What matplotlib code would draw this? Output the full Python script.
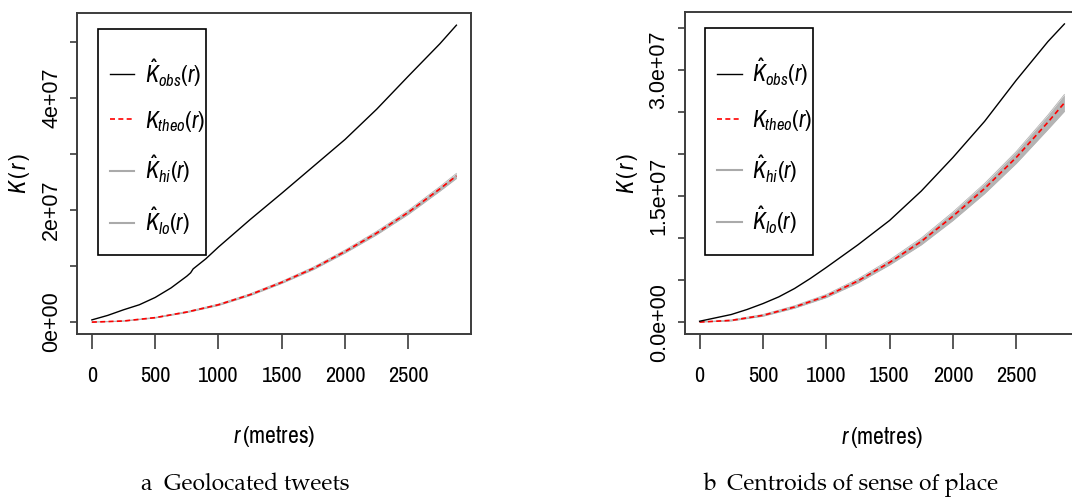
import matplotlib
matplotlib.use("Agg")
import matplotlib.pyplot as plt
from matplotlib.lines import Line2D
from matplotlib.patches import Rectangle

NARROW = ["Archivo Narrow", "Liberation Sans Narrow", "DejaVu Sans"]
SERIF = ["TeX Gyre Pagella", "P052", "URW Palladio L", "Palatino", "Liberation Serif", "DejaVu Serif"]

plt.rcParams["font.family"] = NARROW
plt.rcParams["mathtext.fontset"] = "custom"
plt.rcParams["mathtext.rm"] = "Archivo Narrow"
plt.rcParams["mathtext.it"] = "Archivo Narrow:italic"

# ---- data (K values in units of 1e7) ----
r_obs_a = [0, 125, 250, 375, 500, 625, 750, 780, 800, 900, 1000, 1250, 1500, 1750, 2000,
           2250, 2500, 2750, 2880]
k_obs_a = [0.04, 0.12, 0.22, 0.31, 0.44, 0.61, 0.82, 0.88, 0.95, 1.13, 1.34, 1.83, 2.30,
           2.78, 3.26, 3.80, 4.39, 4.97, 5.30]

r_obs_b = [0, 125, 250, 375, 500, 625, 750, 875, 1000, 1250, 1500, 1750, 2000, 2250, 2500,
           2750, 2880]
k_obs_b = [0.01, 0.05, 0.09, 0.15, 0.22, 0.30, 0.40, 0.52, 0.65, 0.92, 1.21, 1.56, 1.96,
           2.39, 2.88, 3.34, 3.55]

r_theo = [0, 250, 500, 750, 1000, 1250, 1500, 1750, 2000, 2250, 2500, 2750, 2880]
k_theo = [0, 0.02, 0.08, 0.18, 0.31, 0.49, 0.71, 0.96, 1.26, 1.59, 1.96, 2.38, 2.61]

k_hi_a = [0, 0.023, 0.085, 0.188, 0.322, 0.505, 0.728, 0.982, 1.286, 1.62, 1.995, 2.42, 2.655]
k_lo_a = [0, 0.017, 0.075, 0.172, 0.298, 0.475, 0.692, 0.938, 1.234, 1.56, 1.925, 2.34, 2.565]

k_hi_b = [0, 0.026, 0.09, 0.194, 0.328, 0.514, 0.74, 1.0, 1.31, 1.65, 2.03, 2.465, 2.71]
k_lo_b = [0, 0.014, 0.07, 0.166, 0.292, 0.466, 0.68, 0.92, 1.21, 1.53, 1.89, 2.295, 2.51]

ticks_a = [0, 1, 2, 3, 4, 5]
ticklabels_a = ["0e+00", "", "2e+07", "", "4e+07", ""]
ticks_b = [0, 0.5, 1.0, 1.5, 2.0, 2.5, 3.0, 3.5]
ticklabels_b = ["0.0e+00", "", "", "1.5e+07", "", "", "3.0e+07", ""]
xticks = [0, 500, 1000, 1500, 2000, 2500]

labels = [r"$\hat{K}_{obs}(r)$", r"$K_{theo}(r)$", r"$\hat{K}_{hi}(r)$", r"$\hat{K}_{lo}(r)$"]
captions = ["a\u2002Geolocated tweets", "b\u2002Centroids of sense of place"]

SPINE = "#3c3c3c"
BAND = "#b4b4b4"

fig = plt.figure(figsize=(10.72, 4.98), dpi=100)
W, H = 1072, 498


def px_rect(x0, y0, x1, y1):
    return [x0 / W, 1 - y1 / H, (x1 - x0) / W, (y1 - y0) / H]


panels = [
    dict(rect=px_rect(77.3, 13.3, 471, 334), obs=(r_obs_a, k_obs_a), hi=k_hi_a, lo=k_lo_a,
         ticks=ticks_a, tl=ticklabels_a, box=(98.3, 29, 205.9, 255), leg=(109.7, 147),
         cap_x=245),
    dict(rect=px_rect(685, 12, 1079, 334), obs=(r_obs_b, k_obs_b), hi=k_hi_b, lo=k_lo_b,
         ticks=ticks_b, tl=ticklabels_b, box=(705, 27.7, 813, 255), leg=(717, 146.3),
         cap_x=851),
]

for i, p in enumerate(panels):
    ax = fig.add_axes(p["rect"])
    ax.fill_between(r_theo, p["lo"], p["hi"], color=BAND, lw=0, zorder=1)
    ax.plot(r_theo, p["hi"], color=BAND, lw=0.6, zorder=1)
    ax.plot(r_theo, p["lo"], color=BAND, lw=0.6, zorder=1)
    ax.plot(p["obs"][0], p["obs"][1], color="black", lw=1.0, zorder=3)
    ax.plot(r_theo, k_theo, color="#ff0000", lw=1.2, ls=(0, (3, 2)), zorder=2)
    ax.margins(x=0.04, y=0.04)

    ax.set_xticks(xticks)
    ax.set_xticklabels([str(t) for t in xticks], fontsize=16)
    ax.set_yticks(p["ticks"])
    ax.set_yticklabels(p["tl"], rotation=90, va="center", fontsize=15.5,
                       family=["Liberation Sans", "DejaVu Sans"])
    ax.tick_params(axis="x", length=11, width=1.2, color=SPINE, pad=12)
    ax.tick_params(axis="y", length=5, width=1.2, color=SPINE, pad=6)
    for s in ax.spines.values():
        s.set_color(SPINE)
        s.set_linewidth(1.4)

    ax.set_xlabel(r"$r\,$(metres)", fontsize=17, va="center")
    ax.xaxis.set_label_coords(0.5, -0.321)
    ax.set_ylabel(r"$K\,(\,r\,)$", fontsize=17, va="center")
    ax.yaxis.set_label_coords(-0.146, 0.5)

    # legend frame (R-style box) and entries
    bx0, by0, bx1, by1 = p["box"]
    fig.patches.append(Rectangle((bx0 / W, 1 - by1 / H), (bx1 - bx0) / W, (by1 - by0) / H,
                                 transform=fig.transFigure, facecolor="white",
                                 edgecolor="black", lw=1.2, zorder=5))
    handles = [Line2D([], [], color="black", lw=1.0),
               Line2D([], [], color="#ff0000", lw=1.2, ls=(0, (3, 2))),
               Line2D([], [], color="#aaaaaa", lw=1.5),
               Line2D([], [], color="#aaaaaa", lw=1.5)]
    leg = fig.legend(handles, labels, loc="center left",
                     bbox_to_anchor=(p["leg"][0] / W, 1 - p["leg"][1] / H),
                     frameon=False, fontsize=17, handlelength=1.05, handletextpad=0.45,
                     labelspacing=0.85, borderpad=0, borderaxespad=0)
    leg.set_zorder(6)

    fig.text(p["cap_x"] / W, 1 - 485 / H, captions[i], ha="center", va="center",
             fontsize=16.5, family=SERIF)

fig.savefig("out.png", dpi=100)
